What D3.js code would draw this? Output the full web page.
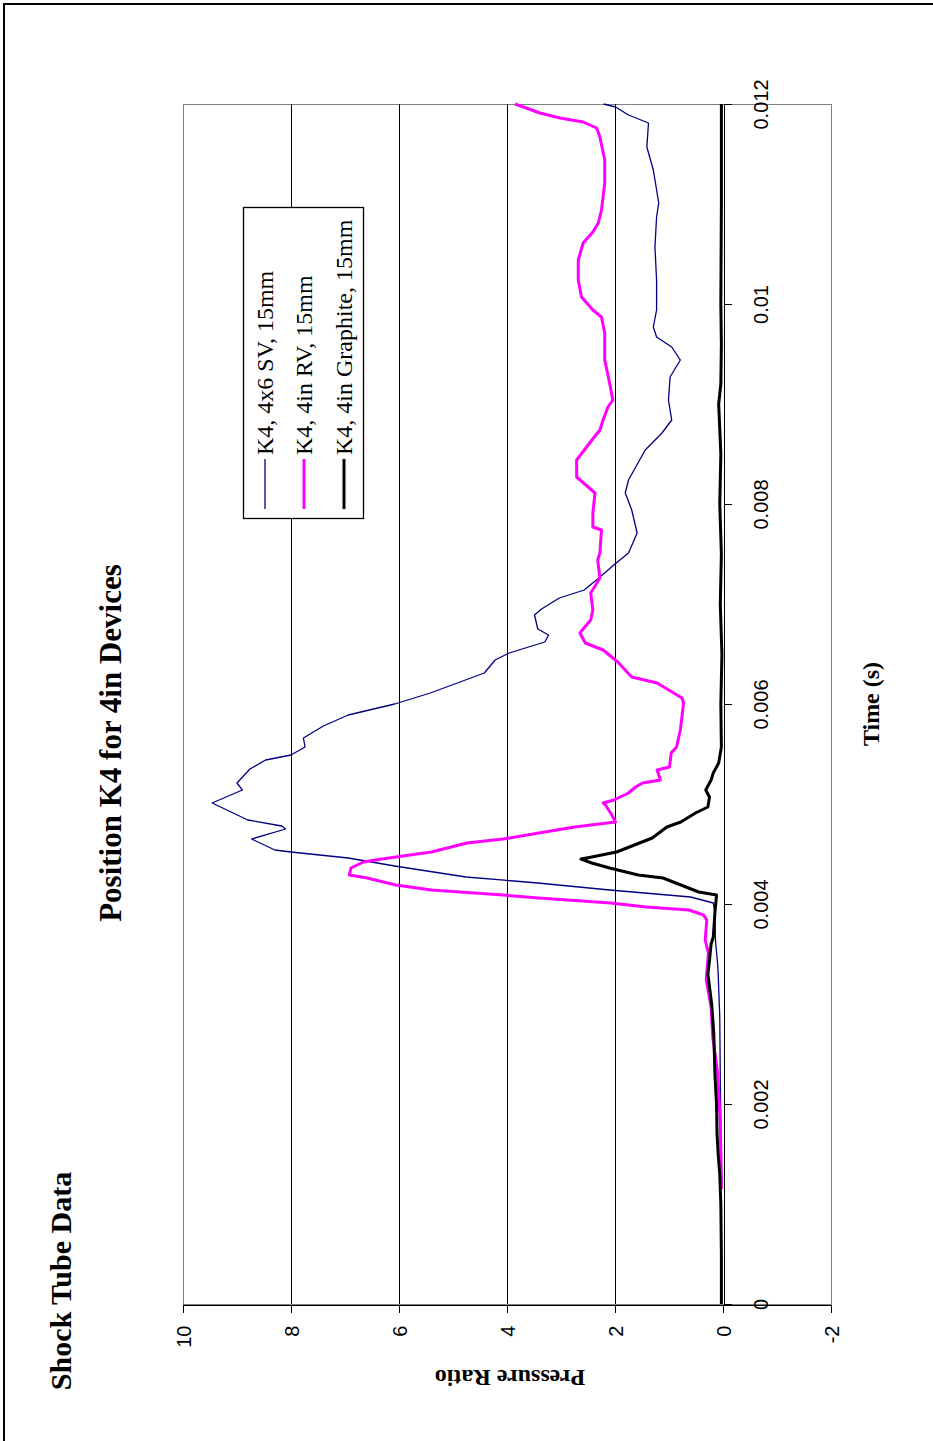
<!DOCTYPE html>
<html>
<head>
<meta charset="utf-8">
<script src="https://cdn.jsdelivr.net/npm/d3@7/dist/d3.min.js"></script>
<style>
  html, body { margin: 0; padding: 0; background: #fff; }
  svg { display: block; }
  text { font-family: "Liberation Serif", "Times New Roman", serif; fill: #000; }
  .tick text { font-family: "Liberation Sans", Arial, sans-serif; }
</style>
</head>
<body>
<svg id="chart" width="933" height="1441"></svg>
<script>
// ---- Data: time (s) and pressure ratio for each gauge record ----
const svTime = [0.00120, 0.00180, 0.00224, 0.00287, 0.00331, 0.00340, 0.00364, 0.00391, 0.00401, 0.00407,
  0.00414, 0.00421, 0.00427, 0.00438, 0.00446, 0.00452, 0.00454, 0.00465, 0.00475, 0.00478,
  0.00484, 0.00501, 0.00514, 0.00521, 0.00535, 0.00544, 0.00549, 0.00557, 0.00566, 0.00578,
  0.00589, 0.00600, 0.00611, 0.00631, 0.00644, 0.00651, 0.00662, 0.00669, 0.00675, 0.00689,
  0.00695, 0.00706, 0.00714, 0.00726, 0.00740, 0.00751, 0.00771, 0.00794, 0.00811, 0.00824,
  0.00854, 0.00871, 0.00884, 0.00904, 0.00927, 0.00944, 0.00957, 0.00967, 0.00977, 0.00994,
  0.01024, 0.01057, 0.01087, 0.01101, 0.01134, 0.01157, 0.01181, 0.01189, 0.01197, 0.01200];
const svRatio = [0.02, 0.04, 0.05, 0.06, 0.09, 0.10, 0.14, 0.15, 0.18, 0.60,
  2.10, 3.43, 4.76, 6.08, 6.94, 8.00, 8.30, 8.73, 8.10, 8.17,
  8.80, 9.46, 8.90, 9.00, 8.76, 8.47, 8.00, 7.74, 7.77, 7.40,
  6.94, 6.08, 5.42, 4.42, 4.22, 3.96, 3.30, 3.23, 3.43, 3.49,
  3.36, 3.03, 2.57, 2.30, 2.00, 1.75, 1.59, 1.69, 1.81, 1.75,
  1.44, 1.13, 0.95, 1.01, 0.98, 0.79, 0.95, 1.23, 1.29, 1.23,
  1.23, 1.26, 1.23, 1.19, 1.29, 1.41, 1.38, 1.75, 1.99, 2.21];

const rvTime = [0.00115, 0.00181, 0.00231, 0.00267, 0.00297, 0.00324, 0.00351, 0.00364, 0.00384, 0.00389,
  0.00394, 0.00397, 0.00401, 0.00406, 0.00409, 0.00414, 0.00419, 0.00426, 0.00429, 0.00436,
  0.00442, 0.00445, 0.00452, 0.00461, 0.00465, 0.00471, 0.00477, 0.00482, 0.00491, 0.00499,
  0.00501, 0.00504, 0.00511, 0.00517, 0.00521, 0.00524, 0.00534, 0.00537, 0.00551, 0.00557,
  0.00574, 0.00587, 0.00601, 0.00606, 0.00621, 0.00627, 0.00642, 0.00654, 0.00661, 0.00671,
  0.00684, 0.00694, 0.00711, 0.00717, 0.00726, 0.00744, 0.00751, 0.00774, 0.00777, 0.00791,
  0.00811, 0.00827, 0.00844, 0.00861, 0.00874, 0.00884, 0.00897, 0.00904, 0.00921, 0.00944,
  0.00971, 0.00987, 0.00994, 0.01007, 0.01024, 0.01044, 0.01061, 0.01072, 0.01081, 0.01094,
  0.01121, 0.01144, 0.01167, 0.01176, 0.01182, 0.01186, 0.01191, 0.01200];
const rvRatio = [0.03, 0.05, 0.10, 0.19, 0.22, 0.31, 0.27, 0.33, 0.30, 0.36,
  0.63, 1.42, 2.08, 3.41, 4.07, 5.40, 6.06, 6.59, 6.92, 6.89,
  6.66, 6.32, 5.40, 4.74, 4.07, 3.41, 2.75, 1.99, 2.08, 2.18,
  2.22, 2.02, 1.75, 1.62, 1.49, 1.16, 1.22, 0.99, 0.96, 0.86,
  0.79, 0.76, 0.73, 0.76, 1.22, 1.69, 1.95, 2.22, 2.55, 2.65,
  2.45, 2.41, 2.45, 2.38, 2.28, 2.32, 2.28, 2.25, 2.41, 2.41,
  2.37, 2.71, 2.71, 2.47, 2.28, 2.22, 2.13, 2.04, 2.10, 2.19,
  2.19, 2.25, 2.41, 2.62, 2.68, 2.68, 2.59, 2.41, 2.31, 2.25,
  2.19, 2.19, 2.28, 2.34, 2.59, 3.02, 3.39, 3.85];

const grTime = [0.00000, 0.00050, 0.00100, 0.00130, 0.00150, 0.00170, 0.00200, 0.00230, 0.00270, 0.00300,
  0.00330, 0.00344, 0.00360, 0.00367, 0.00391, 0.00409, 0.00412, 0.00419, 0.00426, 0.00429,
  0.00436, 0.00441, 0.00445, 0.00447, 0.00452, 0.00459, 0.00466, 0.00477, 0.00482, 0.00491,
  0.00497, 0.00507, 0.00514, 0.00524, 0.00531, 0.00541, 0.00557, 0.00600, 0.00650, 0.00700,
  0.00750, 0.00800, 0.00850, 0.00900, 0.00920, 0.00960, 0.01000, 0.01100, 0.01200];
const grRatio = [0.03, 0.03, 0.04, 0.06, 0.09, 0.11, 0.12, 0.15, 0.17, 0.21,
  0.28, 0.25, 0.22, 0.18, 0.15, 0.12, 0.45, 0.78, 1.11, 1.57,
  2.10, 2.43, 2.63, 2.43, 1.97, 1.64, 1.31, 1.04, 0.78, 0.51,
  0.28, 0.25, 0.32, 0.22, 0.18, 0.08, 0.03, 0.04, 0.02, 0.05,
  0.03, 0.06, 0.04, 0.08, 0.04, 0.03, 0.04, 0.03, 0.03];

const seriesNames = ["K4, 4x6 SV, 15mm", "K4, 4in RV, 15mm", "K4, 4in Graphite, 15mm"];
const seriesColors = ["#000080", "#ff00ff", "#000000"];
const seriesWidths = [1.3, 3, 3];

const ratioTicks = [10, 8, 6, 4, 2, 0, -2];
const ratioTickLabels = ["10", "8", "6", "4", "2", "0", "-2"];
const ratioGrid = [8, 6, 4, 2];
const timeTicks = [0, 0.002, 0.004, 0.006, 0.008, 0.01, 0.012];
const timeTickLabels = ["0", "0.002", "0.004", "0.006", "0.008", "0.01", "0.012"];

// ---- Page layout (chart printed sideways: time runs up, ratio runs left) ----
const svg = d3.select("#chart");
const plot = { left: 183, right: 831, top: 104, bottom: 1304 };

const xR = d3.scaleLinear().domain([10, -2]).range([plot.left, plot.right]);
const yT = d3.scaleLinear().domain([0, 0.012]).range([plot.bottom, plot.top]);

// page frame
svg.append("rect")
  .attr("x", 4).attr("y", 4).attr("width", 1000).attr("height", 1500)
  .attr("fill", "#fff").attr("stroke", "#000").attr("stroke-width", 2);

// plot area border
svg.append("rect")
  .attr("x", plot.left + 0.5).attr("y", plot.top + 0.5)
  .attr("width", plot.right - plot.left).attr("height", plot.bottom - plot.top)
  .attr("fill", "#fff").attr("stroke", "#808080").attr("stroke-width", 1)
  .attr("shape-rendering", "crispEdges");

// major gridlines of the ratio axis
svg.append("g").selectAll("line").data(ratioGrid).join("line")
  .attr("x1", d => Math.round(xR(d)) + 0.5).attr("x2", d => Math.round(xR(d)) + 0.5)
  .attr("y1", plot.top).attr("y2", plot.bottom)
  .attr("stroke", "#000").attr("stroke-width", 1)
  .attr("shape-rendering", "crispEdges");

// ratio axis along the bottom
const ratioAxis = svg.append("g")
  .attr("transform", `translate(0,${plot.bottom + 0.5})`)
  .call(d3.axisBottom(xR).tickValues(ratioTicks).tickSize(8).tickSizeOuter(0)
    .tickFormat((d, i) => ratioTickLabels[i]));
ratioAxis.attr("font-family", null).attr("font-size", null);
ratioAxis.select(".domain").attr("stroke", "#000").attr("shape-rendering", "crispEdges");
ratioAxis.selectAll(".tick line").attr("stroke", "#000").attr("shape-rendering", "crispEdges");
ratioAxis.selectAll(".tick text")
  .attr("font-size", 20)
  .attr("x", 0).attr("y", 0).attr("dy", "0.36em")
  .attr("text-anchor", "end")
  .attr("transform", "translate(0,21) rotate(-90)");

// time axis on the zero-ratio line
const timeAxis = svg.append("g")
  .attr("transform", `translate(${Math.round(xR(0)) + 0.5},0)`)
  .call(d3.axisRight(yT).tickValues(timeTicks).tickSize(8).tickSizeOuter(0)
    .tickFormat((d, i) => timeTickLabels[i]));
timeAxis.attr("font-family", null).attr("font-size", null);
timeAxis.select(".domain").attr("stroke", "#000").attr("shape-rendering", "crispEdges");
timeAxis.selectAll(".tick line").attr("stroke", "#000").attr("shape-rendering", "crispEdges");
timeAxis.selectAll(".tick text")
  .attr("font-size", 20)
  .attr("x", 0).attr("y", 0).attr("dy", "0.36em")
  .attr("text-anchor", "middle")
  .attr("transform", "translate(37,0) rotate(-90)");

// data lines
const line = d3.line().x(d => xR(d[1])).y(d => yT(d[0]));
const series = [
  d3.zip(svTime, svRatio),
  d3.zip(rvTime, rvRatio),
  d3.zip(grTime, grRatio)
];
svg.append("g").selectAll("path").data(series).join("path")
  .attr("d", line)
  .attr("fill", "none")
  .attr("stroke", (d, i) => seriesColors[i])
  .attr("stroke-width", (d, i) => seriesWidths[i])
  .attr("stroke-linejoin", "round");

// legend
const legend = svg.append("g");
legend.append("rect")
  .attr("x", 243.5).attr("y", 207.5).attr("width", 120).attr("height", 311)
  .attr("fill", "#fff").attr("stroke", "#000").attr("stroke-width", 1.3);
const legendX = [265, 304, 344];
seriesNames.forEach((name, i) => {
  legend.append("line")
    .attr("x1", legendX[i]).attr("x2", legendX[i])
    .attr("y1", 459).attr("y2", 509)
    .attr("stroke", seriesColors[i]).attr("stroke-width", seriesWidths[i]);
  legend.append("text")
    .attr("transform", `translate(${legendX[i] + 8},455) rotate(-90)`)
    .attr("font-size", 24)
    .attr("text-anchor", "start")
    .text(name);
});

// titles
svg.append("text")
  .attr("transform", "translate(121,743) rotate(-90)")
  .attr("font-size", 31).attr("font-weight", "bold")
  .attr("text-anchor", "middle")
  .text("Position K4 for 4in Devices");

svg.append("text")
  .attr("transform", "translate(71,1281) rotate(-90)")
  .attr("font-size", 30).attr("font-weight", "bold")
  .attr("text-anchor", "middle")
  .text("Shock Tube Data");

svg.append("text")
  .attr("transform", "translate(879,704) rotate(-90)")
  .attr("font-size", 24).attr("font-weight", "bold")
  .attr("text-anchor", "middle")
  .text("Time (s)");

svg.append("text")
  .attr("transform", `translate(${(plot.left + plot.right) / 2 + 3},1370) rotate(180)`)
  .attr("font-size", 24).attr("font-weight", "bold")
  .attr("text-anchor", "middle")
  .text("Pressure Ratio");
</script>
</body>
</html>
